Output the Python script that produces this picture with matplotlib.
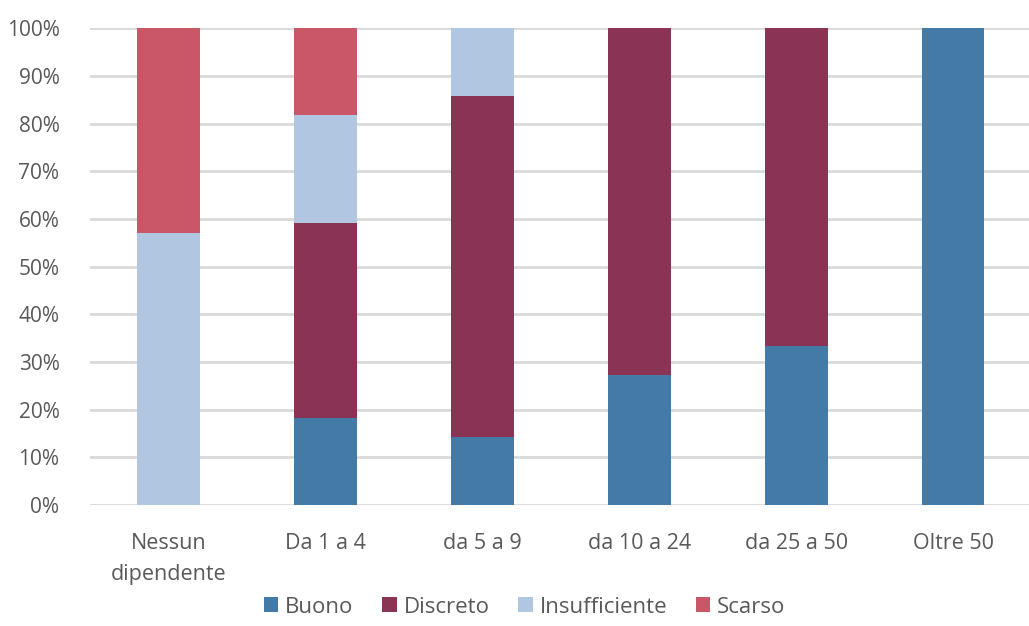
import numpy as np
import matplotlib.pyplot as plt
from matplotlib.ticker import PercentFormatter

plt.rcParams['font.family'] = ['Open Sans', 'DejaVu Sans']

categories = ["Nessun\ndipendente", "Da 1 a 4", "da 5 a 9", "da 10 a 24", "da 25 a 50", "Oltre 50"]
buono = [0.0, 18.2, 14.3, 27.3, 33.3, 100.0]
discreto = [0.0, 40.9, 71.4, 72.7, 66.7, 0.0]
insufficiente = [57.0, 22.7, 14.3, 0.0, 0.0, 0.0]
scarso = [43.0, 18.2, 0.0, 0.0, 0.0, 0.0]

series = [
    ("Buono", buono, "#447BA6"),
    ("Discreto", discreto, "#8A3354"),
    ("Insufficiente", insufficiente, "#B0C6E1"),
    ("Scarso", scarso, "#C95768"),
]

text_col = "#595959"

fig = plt.figure(figsize=(10.29, 6.26), dpi=100)
ax = fig.add_axes([0.0875, 0.193, 0.915, 0.762])

x = np.arange(len(categories))
bottom = np.zeros(len(categories))
for name, vals, col in series:
    vals = np.array(vals) / 100
    ax.bar(x, vals, width=0.4, bottom=bottom, color=col, label=name, zorder=3)
    bottom += vals

ax.set_xlim(-0.5, len(categories) - 0.5)
ax.set_ylim(0, 1)
ax.set_yticks(np.linspace(0, 1, 11))
ax.yaxis.set_major_formatter(PercentFormatter(1.0, decimals=0))
ax.grid(axis="y", color="#D9D9D9", linewidth=2, zorder=0)
ax.set_axisbelow(True)
for s in ax.spines.values():
    s.set_visible(False)
ax.tick_params(axis="both", length=0, colors=text_col)
ax.tick_params(axis="y", pad=22, labelsize=15)
ax.tick_params(axis="x", pad=20, labelsize=15.5)
ax.set_xticks(x)
ax.set_xticklabels(categories, linespacing=1.6)
for lbl in ax.get_yticklabels():
    lbl.set_color(text_col)

fig.legend(loc="center", bbox_to_anchor=(0.51, 0.03), ncol=4, frameon=False,
           fontsize=16, labelcolor=text_col, handlelength=0.65, handleheight=0.65,
           handletextpad=0.3, columnspacing=1.3)

fig.savefig("out.png", dpi=100)
